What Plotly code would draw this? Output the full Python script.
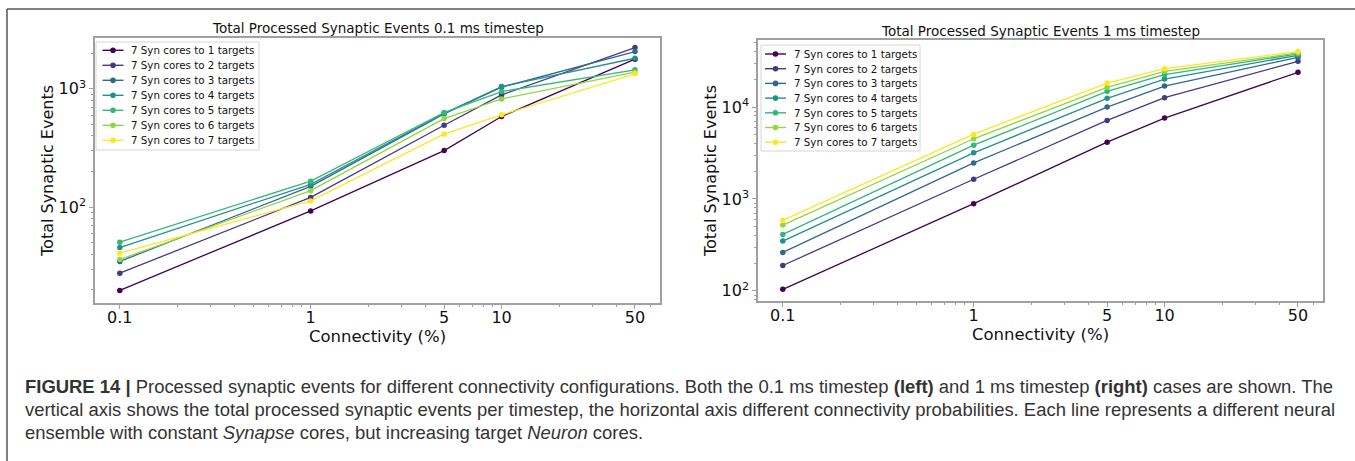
import plotly.graph_objects as go

connectivity = [0.1, 1, 5, 10, 50]
series_names = [f"7 Syn cores to {k} targets" for k in range(1, 8)]
colors = ["#440154", "#443983", "#31688e", "#21918c", "#35b779", "#90d743", "#fde725"]

events_01ms = [
    [19.8, 93, 301, 584, 1782],
    [27.7, 121, 493, 889, 2235],
    [34.8, 150, 615, 1033, 2067],
    [45.6, 156, 622, 1047, 1815],
    [50.6, 166, 631, 949, 1448],
    [36.1, 138, 561, 823, 1383],
    [40.8, 113, 414, 603, 1339],
]
events_1ms = [
    [104, 889, 4150, 7590, 23900],
    [189, 1640, 7160, 12640, 31500],
    [262, 2470, 10000, 16940, 34800],
    [348, 3180, 12440, 20200, 36600],
    [412, 3850, 14830, 22500, 37900],
    [520, 4520, 16400, 24500, 38800],
    [584, 5070, 18270, 26200, 40200],
]
x_tick_vals = [0.1, 1, 5, 10, 50]
x_tick_text = ["0.1", "1", "5", "10", "50"]

W, H = 1355, 461
FONT = "DejaVu Sans"
AX = "#a0a0a0"
TXT = "#111"

fig = go.Figure()
for i, name in enumerate(series_names):
    fig.add_trace(go.Scatter(x=connectivity, y=events_01ms[i], name=name, mode="lines+markers",
                             line=dict(color=colors[i], width=1.3), marker=dict(size=5.5, color=colors[i]),
                             xaxis="x", yaxis="y", showlegend=False))
for i, name in enumerate(series_names):
    fig.add_trace(go.Scatter(x=connectivity, y=events_1ms[i], name=name, mode="lines+markers",
                             line=dict(color=colors[i], width=1.3), marker=dict(size=5.5, color=colors[i]),
                             xaxis="x2", yaxis="y2", showlegend=False))

x_minor = [m * 10.0 ** e for e in (-1, 0, 1) for m in range(2, 10)]
y_minor = [m * 10.0 ** e for e in (1, 2, 3, 4) for m in range(2, 10)]

def xaxis(domain, anchor):
    return dict(type="log", domain=domain, anchor=anchor, range=[-1.13, 1.83],
                tickmode="array", tickvals=x_tick_vals, ticktext=x_tick_text,
                ticks="outside", ticklen=4, tickwidth=1, tickcolor=AX, ticklabelstandoff=-5,
                minor=dict(tickmode="array", tickvals=x_minor, ticks="outside", ticklen=2, tickcolor=AX, showgrid=False),
                showline=True, linecolor=AX, linewidth=1.5, mirror=True, showgrid=False, zeroline=False,
                tickfont=dict(family=FONT, size=16, color=TXT),
                title=dict(text="Connectivity (%)", font=dict(family=FONT, size=16.5, color=TXT), standoff=0))

def yaxis(domain, anchor, rng, tv, tt):
    return dict(type="log", domain=domain, anchor=anchor, range=rng,
                tickmode="array", tickvals=tv, ticktext=tt,
                ticks="outside", ticklen=4, tickwidth=1, tickcolor=AX,
                minor=dict(tickmode="array", tickvals=y_minor, ticks="outside", ticklen=2, tickcolor=AX, showgrid=False),
                showline=True, linecolor=AX, linewidth=1.5, mirror=True, showgrid=False, zeroline=False,
                tickfont=dict(family=FONT, size=16, color=TXT),
                title=dict(text="Total Synaptic Events", font=dict(family=FONT, size=16, color=TXT), standoff=1))

def px(x):
    return x / W

def py(y):
    return 1 - y / H

fig.update_layout(
    width=W, height=H, margin=dict(l=0, r=0, t=0, b=0),
    paper_bgcolor="white", plot_bgcolor="white", showlegend=False,
    xaxis=xaxis([px(95), px(660)], "y"),
    yaxis=yaxis([py(303), py(38)], "x", [1.19, 3.43], [100, 1000], ["10<sup>2</sup>", "10<sup>3</sup>"]),
    xaxis2=xaxis([px(758), px(1323)], "y2"),
    yaxis2=yaxis([py(301), py(40)], "x2", [1.89, 4.73], [100, 1000, 10000],
                 ["10<sup>2</sup>", "10<sup>3</sup>", "10<sup>4</sup>"]),
)

# titles
fig.add_annotation(x=px(378), y=py(28), xref="paper", yref="paper", showarrow=False,
                   xanchor="center", yanchor="middle",
                   text="Total Processed Synaptic Events 0.1 ms timestep",
                   font=dict(family=FONT, size=13.5, color=TXT))
fig.add_annotation(x=px(1040), y=py(31), xref="paper", yref="paper", showarrow=False,
                   xanchor="center", yanchor="middle",
                   text="Total Processed Synaptic Events 1 ms timestep",
                   font=dict(family=FONT, size=13.5, color=TXT))

# compact matplotlib-style legends (box, sample line + marker, label)
def draw_legend(box, first_row, row_gap, line_x0, text_x):
    bx0, by0, bx1, by1 = box
    fig.add_shape(type="rect", xref="paper", yref="paper", x0=px(bx0), x1=px(bx1), y0=py(by1), y1=py(by0),
                  line=dict(color="#d6d6d6", width=1), fillcolor="rgba(255,255,255,0.85)", layer="above")
    r = 2.8
    for i, name in enumerate(series_names):
        yc = first_row + row_gap * i
        fig.add_shape(type="line", xref="paper", yref="paper", x0=px(line_x0), x1=px(line_x0 + 21),
                      y0=py(yc), y1=py(yc), line=dict(color=colors[i], width=1.4), layer="above")
        cx = line_x0 + 10.5
        fig.add_shape(type="circle", xref="paper", yref="paper", x0=px(cx - r), x1=px(cx + r),
                      y0=py(yc + r), y1=py(yc - r), line=dict(color=colors[i], width=0),
                      fillcolor=colors[i], layer="above")
        fig.add_annotation(x=px(text_x), y=py(yc), xref="paper", yref="paper", showarrow=False,
                           xanchor="left", yanchor="middle", text=name,
                           font=dict(family=FONT, size=10.3, color=TXT))

draw_legend((96, 42, 259, 150), 50.3, 15.0, 102.5, 129)
draw_legend((761, 45, 920, 151), 54.0, 14.7, 765, 791.5)

# frame lines
fig.add_shape(type="line", xref="paper", yref="paper", x0=px(7), x1=1, y0=py(9), y1=py(9),
              line=dict(color="#555", width=1.5))
fig.add_shape(type="line", xref="paper", yref="paper", x0=px(7), x1=px(7), y0=py(9), y1=0,
              line=dict(color="#555", width=1.5))

CAP = "Liberation Sans, Arial"
caption = [
    "<b>FIGURE 14 |</b> Processed synaptic events for different connectivity configurations. Both the 0.1 ms timestep <b>(left)</b> and 1 ms timestep <b>(right)</b> cases are shown. The",
    "vertical axis shows the total processed synaptic events per timestep, the horizontal axis different connectivity probabilities. Each line represents a different neural",
    "ensemble with constant <i>Synapse</i> cores, but increasing target <i>Neuron</i> cores.",
]
for j, line in enumerate(caption):
    fig.add_annotation(x=px(23), y=py(386 + 23 * j), xref="paper", yref="paper", showarrow=False,
                       xanchor="left", yanchor="middle", text=line,
                       font=dict(family=CAP, size=18.45, color="#333"))

fig.write_html("out.html")
